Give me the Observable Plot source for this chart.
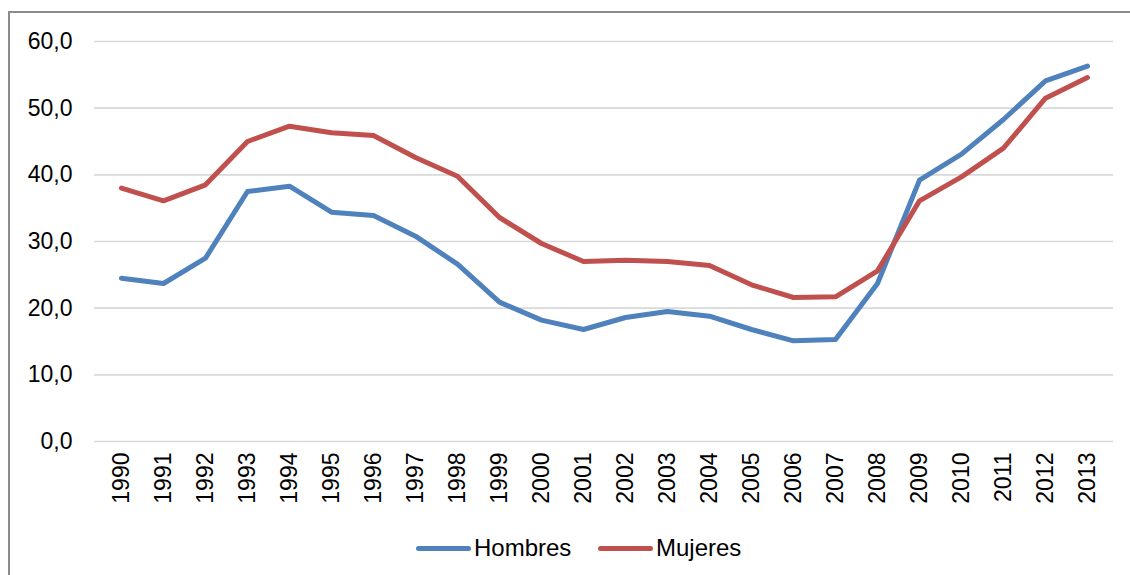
<!DOCTYPE html>
<html>
<head>
<meta charset="utf-8">
<script src="https://cdn.jsdelivr.net/npm/d3@7"></script>
<script src="https://cdn.jsdelivr.net/npm/@observablehq/plot@0.6"></script>
<style>
  html, body { margin: 0; padding: 0; background: #fff; overflow: hidden; width: 1130px; height: 575px; }
  body { position: relative; font-family: "Liberation Sans", Arial, sans-serif; }
  #frame { position: absolute; left: 8px; top: 11px; width: 1200px; height: 700px; border-left: 2px solid #8c8c8c; border-top: 2px solid #8c8c8c; box-sizing: border-box; }
  #chart { position: absolute; left: 0; top: 0; }
  #legend { position: absolute; top: 533px; left: 0; width: 1130px; height: 30px; }
  .item { position: absolute; top: 0; height: 30px; display: flex; align-items: center; font-size: 24px; color: #000; }
  .sw { width: 55px; height: 5px; border-radius: 3px; margin-right: 3px; }
</style>
</head>
<body>
<div id="frame"></div>
<div id="chart"></div>
<div id="legend"></div>
<script>
const years = ["1990","1991","1992","1993","1994","1995","1996","1997","1998","1999","2000","2001","2002","2003","2004","2005","2006","2007","2008","2009","2010","2011","2012","2013"];
const hombres = [24.5, 23.7, 27.5, 37.5, 38.3, 34.4, 33.9, 30.8, 26.6, 20.9, 18.2, 16.8, 18.6, 19.5, 18.8, 16.8, 15.1, 15.3, 23.7, 39.2, 43.1, 48.3, 54.1, 56.3];
const mujeres = [38.0, 36.1, 38.5, 45.0, 47.3, 46.3, 45.9, 42.6, 39.8, 33.6, 29.7, 27.0, 27.2, 27.0, 26.4, 23.5, 21.6, 21.7, 25.6, 36.1, 39.7, 44.0, 51.5, 54.6];
const series = ["Hombres", "Mujeres"];
const colors = ["#4F81BD", "#C0504D"];
const yTicks = [0, 10, 20, 30, 40, 50, 60];

const data = [];
years.forEach((y, i) => {
  data.push({year: y, value: hombres[i], serie: series[0]});
  data.push({year: y, value: mujeres[i], serie: series[1]});
});

const fmt = d => d.toFixed(1).replace(".", ",");

const plot = Plot.plot({
  width: 1130,
  height: 520,
  marginTop: 41,
  marginBottom: 79,
  marginLeft: 94,
  marginRight: 17,
  style: {fontFamily: "'Liberation Sans', Arial, sans-serif", fontSize: "23px", color: "#000", background: "transparent"},
  x: {type: "point", domain: years, padding: 0.5},
  y: {domain: [0, 60]},
  color: {domain: series, range: colors},
  marks: [
    Plot.ruleY(yTicks, {stroke: "#D9D9D9", strokeWidth: 1.6}),
    Plot.axisY(yTicks, {tickSize: 0, tickPadding: 22, tickFormat: fmt, label: null, fontSize: 23}),
    Plot.axisX({tickSize: 0, tickPadding: 11, tickRotate: -90, label: null, fontSize: 23}),
    Plot.line(data, {x: "year", y: "value", z: "serie", stroke: "serie", strokeWidth: 5, strokeLinejoin: "round", strokeLinecap: "round"})
  ]
});
document.getElementById("chart").appendChild(plot);

const legend = document.getElementById("legend");
const lefts = [416, 598];
series.forEach((s, i) => {
  const it = document.createElement("div");
  it.className = "item";
  it.style.left = lefts[i] + "px";
  const sw = document.createElement("div");
  sw.className = "sw";
  sw.style.background = colors[i];
  const t = document.createElement("span");
  t.textContent = s;
  it.appendChild(sw);
  it.appendChild(t);
  legend.appendChild(it);
});
</script>
</body>
</html>
